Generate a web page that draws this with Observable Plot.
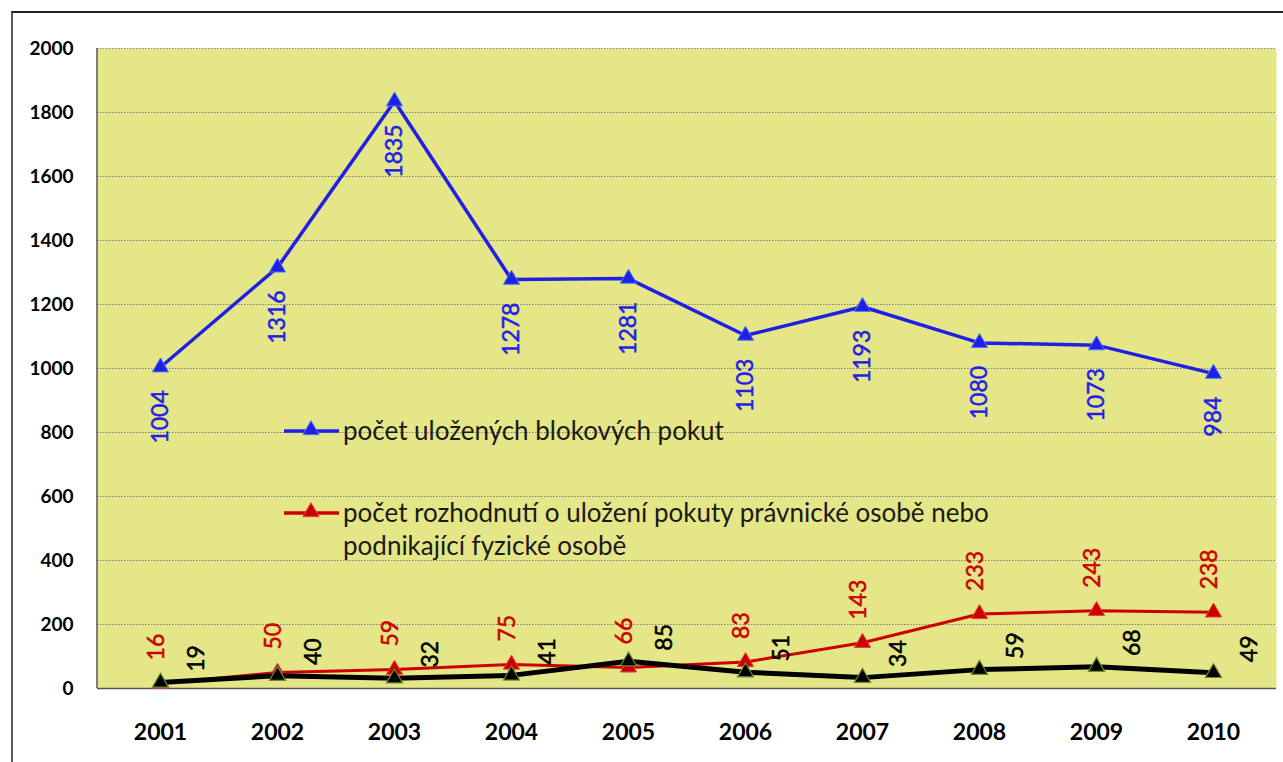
<!DOCTYPE html>
<html>
<head>
<meta charset="utf-8">
<script src="https://cdn.jsdelivr.net/npm/d3@7"></script>
<script src="https://cdn.jsdelivr.net/npm/@observablehq/plot@0.6"></script>
<style>
  html, body { margin: 0; padding: 0; background: #fff; }
  #wrap { position: relative; width: 1283px; height: 762px; overflow: hidden; }
  #border { position: absolute; left: 11px; top: 11px; width: 1290px; height: 800px;
            border-left: 2px solid #5a5a5a; border-top: 2px solid #222; box-sizing: border-box; pointer-events: none; }
</style>
</head>
<body>
<div id="wrap"><div id="border"></div></div>
<script>
const years = ["2001","2002","2003","2004","2005","2006","2007","2008","2009","2010"];
const blokove = [1004, 1316, 1835, 1278, 1281, 1103, 1193, 1080, 1073, 984];
const rozhodnuti = [16, 50, 59, 75, 66, 83, 143, 233, 243, 238];
const ostatni = [19, 40, 32, 41, 85, 51, 34, 59, 68, 49];
const yTicks = [0, 200, 400, 600, 800, 1000, 1200, 1400, 1600, 1800, 2000];
const legendLabels = [
  ["počet uložených blokových pokut"],
  ["počet rozhodnutí o uložení pokuty právnické osobě nebo", "podnikající fyzické osobě"]
];

const BLUE = "#1f1fe6", RED = "#cc0000", BLACK = "#000000", BG = "#e5e687";
const FONT = "Lato, 'Open Sans', sans-serif";

const blue = years.map((y, i) => ({year: y, v: blokove[i]}));
const red = years.map((y, i) => ({year: y, v: rozhodnuti[i]}));
const black = years.map((y, i) => ({year: y, v: ostatni[i]}));

const leftLine = (index, scales, values, dims) => {
  const g = d3.create("svg:g");
  g.append("line").attr("x1", dims.marginLeft).attr("x2", dims.marginLeft)
    .attr("y1", dims.marginTop).attr("y2", dims.height - dims.marginBottom)
    .attr("stroke", "#555").attr("stroke-width", 1.5);
  return g.node();
};

const labelFont = {fontSize: 23, fontFamily: FONT, strokeWidth: 0.5};

const chart = Plot.plot({
  width: 1283,
  height: 762,
  marginLeft: 97,
  marginRight: 7,
  marginTop: 48,
  marginBottom: 74,
  style: {fontFamily: FONT, background: "transparent"},
  x: {type: "point", domain: years, padding: 0.5, label: null},
  y: {domain: [0, 2000], label: null},
  marks: [
    Plot.frame({fill: BG, stroke: null}),
    Plot.gridY(yTicks, {stroke: "#808080", strokeOpacity: 1, strokeWidth: 1, strokeDasharray: "1.5,1.5"}),
    Plot.axisY(yTicks, {tickSize: 0, tickPadding: 24, tickFormat: "d", fontSize: 19, fontWeight: "bold", fill: "#000", label: null}),
    Plot.axisX(years, {tickSize: 0, tickPadding: 35, fontSize: 23, fontWeight: "bold", fill: "#000", label: null}),
    Plot.ruleY([0], {stroke: "#555", strokeWidth: 1.5}),
    leftLine,
    // blue series
    Plot.line(blue, {x: "year", y: "v", stroke: BLUE, strokeWidth: 3.5}),
    Plot.dot(blue, {x: "year", y: "v", symbol: "triangle", r: 6, fill: BLUE, stroke: "#4a78ff", strokeWidth: 1}),
    Plot.text(blue, {x: "year", y: "v", text: d => String(d.v), rotate: -90, textAnchor: "end", dy: 23, fill: BLUE, stroke: BLUE, ...labelFont}),
    // red series
    Plot.line(red, {x: "year", y: "v", stroke: RED, strokeWidth: 3}),
    Plot.dot(red, {x: "year", y: "v", symbol: "triangle", r: 6, fill: RED, stroke: "#e04040", strokeWidth: 1}),
    // black series
    Plot.line(black, {x: "year", y: "v", stroke: BLACK, strokeWidth: 5}),
    Plot.dot(black, {x: "year", y: "v", symbol: "triangle", r: 6, fill: BLACK, stroke: "#6f8a2a", strokeWidth: 1.2}),
    Plot.text(red, {x: "year", y: "v", text: d => String(d.v), rotate: -90, textAnchor: "start", dx: -4, dy: -23, fill: RED, stroke: RED, ...labelFont}),
    Plot.text(black, {x: "year", y: "v", text: d => String(d.v), rotate: -90, textAnchor: "middle", dx: 36, dy: -24, fill: BLACK, stroke: BLACK, ...labelFont})
  ]
});

// legend inside plot area
const svg = d3.select(chart);
const lg = svg.append("g").attr("font-family", FONT).attr("font-size", 26).attr("fill", "#1a1a1a")
  .attr("text-anchor", "start");
const entries = [
  {color: BLUE, stroke: "#4a78ff", y: 431, lines: legendLabels[0]},
  {color: RED, stroke: "#e04040", y: 513, lines: legendLabels[1]}
];
entries.forEach(e => {
  lg.append("line").attr("x1", 284).attr("x2", 339).attr("y1", e.y).attr("y2", e.y)
    .attr("stroke", e.color).attr("stroke-width", 3.5);
  lg.append("path").attr("d", d3.symbol(d3.symbolTriangle, Math.PI * 6 * 6)())
    .attr("transform", `translate(311,${e.y - 1})`).attr("fill", e.color).attr("stroke", e.stroke);
  e.lines.forEach((t, i) => {
    lg.append("text").attr("x", 343).attr("y", e.y + i * 33).attr("dy", "0.35em")
      .attr("text-anchor", "start").text(t);
  });
});

document.getElementById("wrap").prepend(chart);
</script>
</body>
</html>
